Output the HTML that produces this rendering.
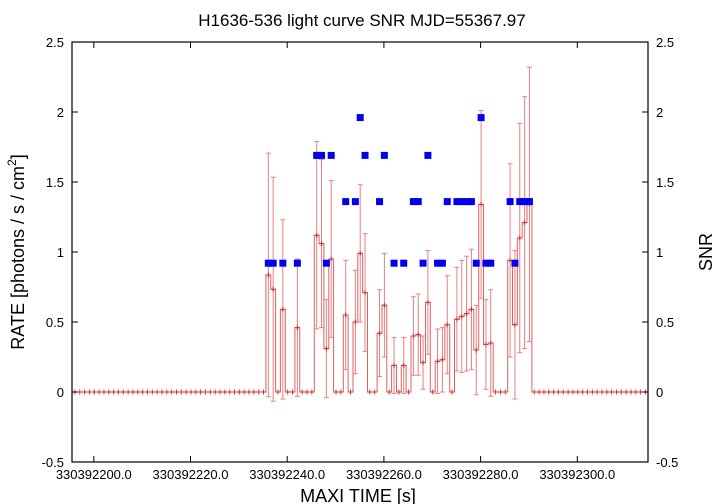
<!DOCTYPE html>
<html><head><meta charset="utf-8"><style>
body{margin:0;background:#fff}
svg{display:block;font-family:"Liberation Sans",sans-serif}
</style></head><body>
<svg id="chart" width="720" height="504" viewBox="0 0 720 504" xmlns="http://www.w3.org/2000/svg">
<rect width="720" height="504" fill="#fff"/>
<text x="362" y="26" font-size="17" text-anchor="middle">H1636-536 light curve  SNR MJD=55367.97</text>
<g id="marks"></g>
<g id="axes"></g>
<text transform="translate(24,252) rotate(-90)" font-size="18" text-anchor="middle">RATE [photons / s / cm<tspan font-size="12" dy="-8">2</tspan><tspan dy="8">]</tspan></text>
<text transform="translate(712,252) rotate(-90)" font-size="18" text-anchor="middle">SNR</text>
<text x="358" y="502" font-size="18" text-anchor="middle">MAXI TIME [s]</text>
</svg>
<script>
const NS="http://www.w3.org/2000/svg";
const startTime=236.1;
const binWidth=1.0;
const rates=[0.836,0.734,0,0.59,0,0,0.46,0,0,0,1.12,1.06,0.31,0.95,0,0,0.55,0,0.50,0.99,0.71,0,0,0.42,0.62,0,0.19,0,0.19,0,0.40,0.41,0.21,0.64,0,0.22,0.23,0.48,0,0.52,0.54,0.56,0.59,0.30,1.34,0.34,0.35,0,0,0,0.94,0.48,1.10,1.21,1.34];
const errors=[0.87,0.80,0,0.64,0,0,0.49,0,0,0,0.67,0.60,0.35,0.56,0,0,0.39,0,0.37,0.49,0.42,0,0,0.31,0.37,0,0.20,0,0.20,0,0.28,0.29,0.19,0.37,0,0.23,0.23,0.35,0,0.37,0.40,0.41,0.43,0.32,0.67,0.32,0.38,0,0,0,0.69,0.53,0.82,0.90,0.98];
const snr=[0.92,0.92,0,0.92,0,0,0.92,0,0,0,1.69,1.69,0.92,1.69,0,0,1.36,0,1.36,1.96,1.69,0,0,1.36,1.69,0,0.92,0,0.92,0,1.36,1.36,0.92,1.69,0,0.92,0.92,1.36,0,1.36,1.36,1.36,1.36,0.92,1.96,0.92,0.92,0,0,0,1.36,0.92,1.36,1.36,1.36];
const zeroBinsBefore=40;
const zeroBinsAfter=24;
const yTicks=[-0.5,0,0.5,1,1.5,2,2.5];
const yTickLabels=["-0.5","0","0.5","1","1.5","2","2.5"];
const xTicks=[200,220,240,260,280,300];
const xTickLabels=["330392200.0","330392220.0","330392240.0","330392260.0","330392280.0","330392300.0"];

const L=72,R=648,T=42,B=462;
const x=t=>93.8+(t-200)*4.835;
const y=v=>392-v*140;
const marks=document.getElementById('marks'),axes=document.getElementById('axes');
function mk(tag,attrs,parent){const e=document.createElementNS(NS,tag);for(const k in attrs)e.setAttribute(k,attrs[k]);parent.appendChild(e);return e;}

// full series with zero padding
const allR=[],allE=[],allT=[];
for(let i=-zeroBinsBefore;i<rates.length+zeroBinsAfter;i++){
  const j=i;const inData=j>=0&&j<rates.length;
  allR.push(inData?rates[j]:0);allE.push(inData?errors[j]:0);allT.push(startTime+i*binWidth);
}
// step line
let d="";
allT.forEach((t,i)=>{const x0=x(t-binWidth/2),x1=x(t+binWidth/2),yy=y(allR[i]);d+=(i?"L":"M")+x0.toFixed(1)+","+yy.toFixed(1)+"L"+x1.toFixed(1)+","+yy.toFixed(1);});
const step=mk('path',{d:d,fill:'none',stroke:'#e06060','stroke-width':1},marks);


allT.forEach((t,i)=>{
  const cx=x(t),cy=y(allR[i]);
  const g=mk('g',{},marks);
  
  
  if(allE[i]>0){
    const yt=y(allR[i]+allE[i]),yb=y(allR[i]-allE[i]);
    mk('path',{d:`M${cx},${yt}L${cx},${yb}M${cx-2.5},${yt}L${cx+2.5},${yt}M${cx-2.5},${yb}L${cx+2.5},${yb}`,stroke:'#e88080','stroke-width':1,fill:'none'},g);
  }
  mk('path',{d:`M${cx-2.5},${cy}L${cx+2.5},${cy}M${cx},${cy-2.5}L${cx},${cy+2.5}`,stroke:'#d03030','stroke-width':1},g);
});
snr.forEach((s,i)=>{
  if(s<=0)return;
  const r=mk('rect',{x:x(startTime+i*binWidth)-3.5,y:y(s)-3.5,width:7,height:7,fill:'#0000ee'},marks);
  
  
});
// axes
const fr=mk('rect',{x:L,y:T,width:R-L,height:B-T,fill:'none',stroke:'#000','stroke-width':1.2},axes);


yTicks.forEach((v,i)=>{
  const yy=y(v);
  mk('path',{d:`M${L},${yy}L${L+6},${yy}M${R},${yy}L${R-6},${yy}`,stroke:'#000'},axes);
  const a=mk('text',{x:L-8,y:yy+5,'font-size':13,'text-anchor':'end'},axes);a.textContent=yTickLabels[i];
  
  
  const b=mk('text',{x:R+8,y:yy+5,'font-size':13},axes);b.textContent=yTickLabels[i];
  
  
});
xTicks.forEach((t,i)=>{
  const xx=x(t);
  mk('path',{d:`M${xx},${B}L${xx},${B-6}M${xx},${T}L${xx},${T+6}`,stroke:'#000'},axes);
  const a=mk('text',{x:xx,y:B+17,'font-size':13,'text-anchor':'middle'},axes);a.textContent=xTickLabels[i];
  
  
});
</script>
</body></html>
